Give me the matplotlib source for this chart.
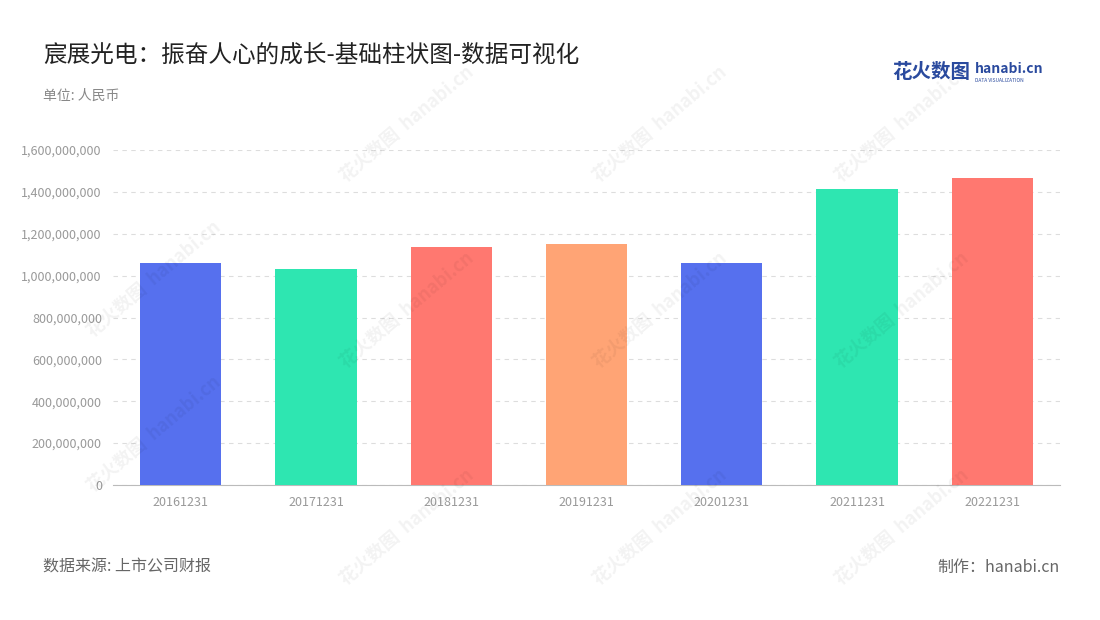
import matplotlib
matplotlib.use("Agg")
import matplotlib.pyplot as plt
from matplotlib.ticker import FuncFormatter

plt.rcParams['font.family'] = ['Noto Sans CJK SC', 'DejaVu Sans']

categories = ["20161231", "20171231", "20181231", "20191231", "20201231", "20211231", "20221231"]
values = [1.061e9, 1.031e9, 1.136e9, 1.150e9, 1.058e9, 1.413e9, 1.465e9]
colors = ["#5670EE", "#2EE6B1", "#FF7870", "#FFA475", "#5670EE", "#2EE6B1", "#FF7870"]

fig = plt.figure(figsize=(11, 6.2), dpi=100)
ax = fig.add_axes([113/1100, 135/620, 947/1100, 335/620])
x = range(len(categories))
ax.bar(x, values, width=0.6, color=colors, zorder=3)
ax.set_xlim(-0.5, len(categories) - 0.5)
ax.set_ylim(0, 1.6e9)
ax.set_yticks([i * 2e8 for i in range(9)])
ax.yaxis.set_major_formatter(FuncFormatter(lambda v, p: f"{int(v):,}"))
ax.set_xticks(list(x))
ax.set_xticklabels(categories)
ax.tick_params(axis='both', length=0, labelsize=9, colors="#999999", pad=8)
ax.grid(axis='y', color="#DDDDDD", linestyle=(0, (4, 4)), linewidth=0.8, zorder=0)
for s in ["top", "right", "left"]:
    ax.spines[s].set_visible(False)
ax.spines["bottom"].set_color("#BBBBBB")

# watermarks
for wx, wy in [(0.37, 0.8), (0.6, 0.8), (0.82, 0.8), (0.14, 0.55), (0.37, 0.5), (0.6, 0.5), (0.82, 0.5),
               (0.14, 0.3), (0.37, 0.15), (0.6, 0.15), (0.82, 0.15)]:
    fig.text(wx, wy, "花火数图  hanabi.cn", fontsize=13, color="#000000", alpha=0.05,
             rotation=40, ha="center", va="center", weight="bold")

fig.text(43/1100, 1 - 55/620, "宸展光电：振奋人心的成长-基础柱状图-数据可视化", fontsize=17, color="#222222", va="center")
fig.text(43/1100, 1 - 96/620, "单位: 人民币", fontsize=10, color="#888888", va="center")
fig.text(43/1100, 1 - 567/620, "数据来源: 上市公司财报", fontsize=11.5, color="#666666", va="center")
fig.text(1060/1100, 1 - 567/620, "制作：hanabi.cn", fontsize=11.5, color="#666666", va="center", ha="right")
fig.text(892/1100, 1 - 73/620, "花火数图", fontsize=14, color="#2A4A9E", va="center", weight="bold")
fig.text(975/1100, 1 - 69/620, "hanabi.cn", fontsize=10, color="#2A4A9E", va="center", weight="bold")
fig.text(975/1100, 1 - 80/620, "DATA VISUALIZATION", fontsize=3.5, color="#2A4A9E", va="center")

fig.savefig("out.png", dpi=100)
